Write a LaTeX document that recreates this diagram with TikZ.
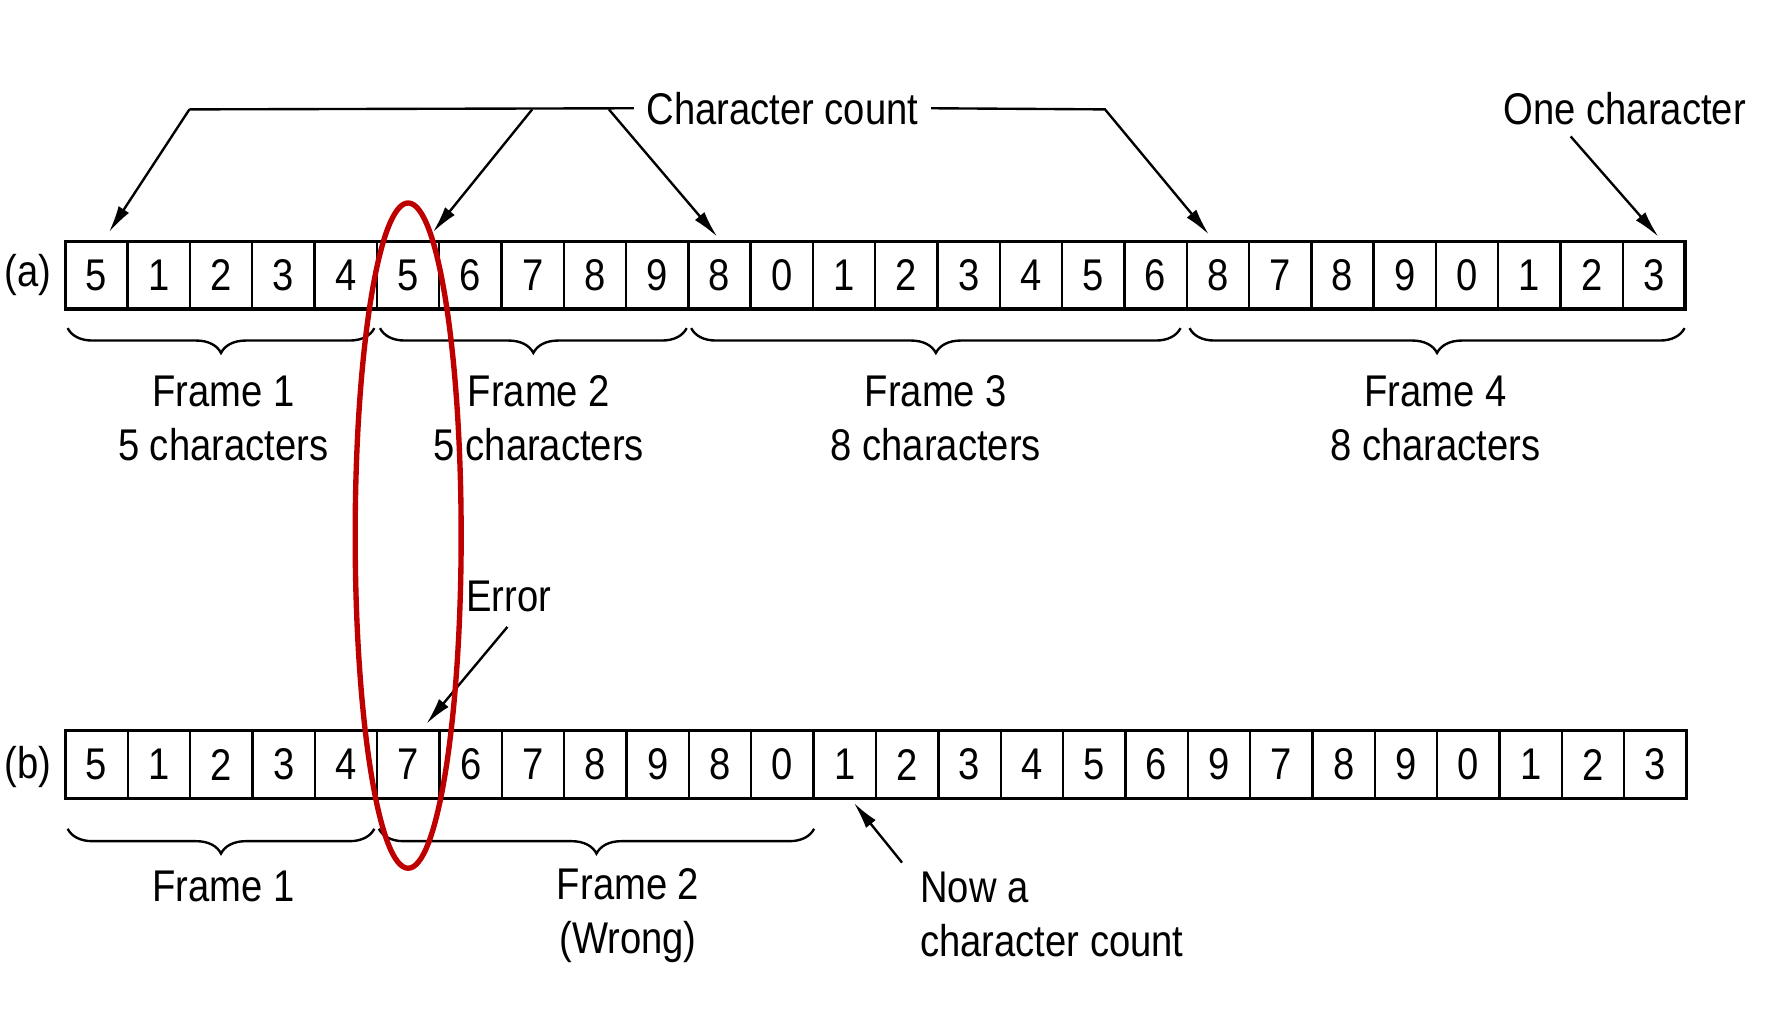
\documentclass[tikz,border=0pt]{standalone}
\usepackage{fontspec}
\setmainfont{Liberation Sans}[FakeStretch=0.86]
\usetikzlibrary{arrows.meta,decorations.pathreplacing,calc}
\definecolor{errred}{RGB}{190,0,0}
\newcommand\lblfont{\fontsize{11.2}{13.7}\selectfont}
\begin{document}
\begin{tikzpicture}[x=0.01cm,y=-0.01cm,
  cell/.style={draw, line width=0.6pt, minimum width=0.5525cm, minimum height=0.6cm, inner sep=0pt, outer sep=0pt, font=\lblfont},
  lbl/.style={font=\lblfont, inner sep=3pt},
  arr/.style={line width=0.6pt, -{Latex[length=0.24cm,width=0.11cm]}},
  brc/.style={decorate, decoration={brace, mirror, amplitude=0.22cm}, line width=0.6pt},
  errell/.style={draw=errred, line width=1.35pt}]
\useasboundingbox (0,0) rectangle (1568,917);

% row (a)
\foreach \d [count=\i] in {5,1,2,3,4,5,6,7,8,9,8,0,1,2,3,4,5,6,8,7,8,9,0,1,2,3}
  \node[cell] (a\i) at ({58+55.25*(\i-0.5)},244) {\d};
\draw[line width=0.9pt] (a1.north west) rectangle (a26.south east);
\node[lbl] (la) at (25,244) {(a)};

% row (b)
\foreach \d [count=\i] in {5,1,2,3,4,7,6,7,8,9,8,0,1,2,3,4,5,6,9,7,8,9,0,1,2,3}
  \node[cell] (b\i) at ({58+55.3*(\i-0.5)},678) {\d};
\draw[line width=0.9pt] (b1.north west) rectangle (b26.south east);
\node[lbl] (lb) at (25,680) {(b)};

% character count arrows
\node[lbl] (cc) at (694,96) {Character count};
\coordinate (ccL) at (168,97);
\coordinate (ccM) at (472,97);
\coordinate (ccN) at (540,97);
\coordinate (ccR) at (980,97);
\draw[line width=0.6pt] (cc.west) -- (ccL);
\draw[arr] (ccL) -- ($(a1.north)+(11,-8)$);
\draw[arr] (ccM) -- ($(a6.north)+(22,-8)$);
\draw[arr] (ccN) -- ($(a11.north)+(-2,-4)$);
\draw[arr] (cc.east) -- (ccR) -- ($(a19.north)+(-8,-6)$);

\node[lbl] (oc) at (1441,96) {One character};
\coordinate (ocS) at (1393,121);
\draw[arr] (ocS) -- ($(a26.north)+(4,-4)$);

% braces (a)
\draw[brc] (60,291) -- (332,291);
\draw[brc] (337,291) -- (609,291);
\draw[brc] (613,291) -- (1047,291);
\draw[brc] (1055,291) -- (1494,291);
\node[lbl, align=center] (f1) at (198,371) {Frame 1\\5 characters};
\node[lbl, align=center] (f2) at (478,371) {Frame 2\\5 characters};
\node[lbl, align=center] (f3) at (830,371) {Frame 3\\8 characters};
\node[lbl, align=center] (f4) at (1273,371) {Frame 4\\8 characters};

% error
\node[lbl] (err) at (451,529) {Error};
\coordinate (errS) at (450,556);
\draw[arr] (errS) -- ($(b6.north)+(16,-6)$);

% braces (b)
\draw[brc] (60,735) -- (332,735);
\draw[brc] (336,735) -- (722,735);
\node[lbl] (fb1) at (198,786) {Frame 1};
\node[lbl, align=center] (fb2) at (557,812) {Frame 2\\(Wrong)};

\node[lbl, anchor=west, align=left] (now) at (805,811) {Now a\\character count};
\coordinate (nowS) at (800,765);
\draw[arr] (nowS) -- ($(b13.south)+(8,4)$);

% red ellipse
\draw[errell] (362,475) ellipse [x radius=47, y radius=295];
\end{tikzpicture}
\end{document}
